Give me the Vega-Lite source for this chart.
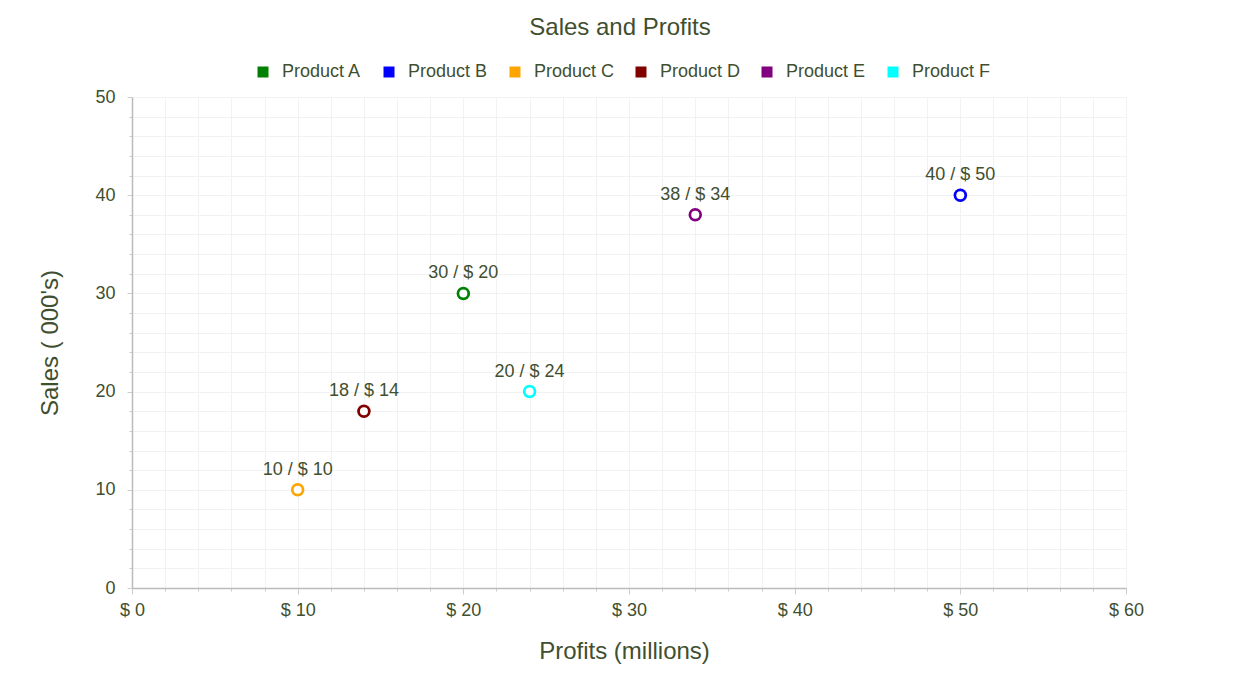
{
  "$schema": "https://vega.github.io/schema/vega-lite/v6.json",
  "width": 994,
  "height": 491,
  "autosize": {"type": "none"},
  "padding": {"left": 132, "top": 97, "right": 107, "bottom": 96},
  "background": "white",
  "config": {
    "font": "Liberation Sans",
    "view": {"stroke": null}
  },
  "title": {
    "text": "Sales and Profits",
    "fontSize": 24,
    "fontWeight": "normal",
    "color": "#3f4f2f",
    "offset": 23,
    "dx": -9,
    "anchor": "middle"
  },
  "data": {
    "values": [
      {"product": "Product A", "profit": 20, "sales": 30, "label": "30 / $ 20"},
      {"product": "Product B", "profit": 50, "sales": 40, "label": "40 / $ 50"},
      {"product": "Product C", "profit": 10, "sales": 10, "label": "10 / $ 10"},
      {"product": "Product D", "profit": 14, "sales": 18, "label": "18 / $ 14"},
      {"product": "Product E", "profit": 34, "sales": 38, "label": "38 / $ 34"},
      {"product": "Product F", "profit": 24, "sales": 20, "label": "20 / $ 24"}
    ]
  },
  "encoding": {
    "x": {
      "field": "profit",
      "type": "quantitative",
      "scale": {"domain": [0, 60], "nice": false},
      "axis": {
        "title": "Profits (millions)",
        "titleX": 492,
        "values": [0,2,4,6,8,10,12,14,16,18,20,22,24,26,28,30,32,34,36,38,40,42,44,46,48,50,52,54,56,58,60],
        "labelExpr": "datum.value % 10 === 0 ? '$ ' + datum.value : ''",
        "labelFontSize": 18,
        "labelColor": "#3f4f2f",
        "labelPadding": 7,
        "labelFlush": false,
        "labelOverlap": false,
        "titleFontSize": 24,
        "titleFontWeight": "normal",
        "titleColor": "#3f4f2f",
        "titlePadding": 20,
        "domainColor": "#bbbbbb",
        "domainWidth": 1.5,
        "tickColor": "#cccccc",
        "tickSize": {"expr": "datum.value % 10 === 0 ? 6 : 3"},
        "gridColor": "#f2f2f2",
        "gridWidth": 1
      }
    },
    "y": {
      "field": "sales",
      "type": "quantitative",
      "scale": {"domain": [0, 50], "nice": false},
      "axis": {
        "title": "Sales ( 000's)",
        "values": [0,2,4,6,8,10,12,14,16,18,20,22,24,26,28,30,32,34,36,38,40,42,44,46,48,50],
        "labelExpr": "datum.value % 10 === 0 ? datum.value : ''",
        "labelFontSize": 18,
        "labelColor": "#3f4f2f",
        "labelPadding": 12,
        "labelOverlap": false,
        "labelFlush": false,
        "titleFontSize": 24,
        "titleFontWeight": "normal",
        "titleColor": "#3f4f2f",
        "titlePadding": 32,
        "domainColor": "#bbbbbb",
        "domainWidth": 1.5,
        "tickColor": "#cccccc",
        "tickSize": {"expr": "datum.value % 10 === 0 ? 5 : 3"},
        "gridColor": "#f2f2f2",
        "gridWidth": 1
      }
    }
  },
  "layer": [
    {
      "mark": {"type": "point", "shape": "circle", "filled": true, "size": 182, "opacity": 1},
      "encoding": {
        "color": {
          "field": "product",
          "type": "nominal",
          "scale": {
            "domain": ["Product A", "Product B", "Product C", "Product D", "Product E", "Product F"],
            "range": ["#008000", "#0000ff", "#ffa500", "#800000", "#800080", "#00ffff"]
          },
          "legend": {
            "title": null,
            "orient": "none",
            "legendX": 122,
            "legendY": -34,
            "direction": "horizontal",
            "columns": 6,
            "gridAlign": "all",
            "columnPadding": 17,
            "symbolType": "square",
            "symbolSize": 121,
            "symbolOpacity": 1,
            "labelFontSize": 18,
            "labelColor": "#3f4f2f",
            "labelOffset": 10
          }
        }
      }
    },
    {
      "mark": {"type": "point", "shape": "circle", "filled": true, "size": 64, "color": "white", "opacity": 1},
      "encoding": {}
    },
    {
      "mark": {"type": "text", "dy": -15, "baseline": "alphabetic", "fontSize": 18, "color": "#3f4f2f"},
      "encoding": {
        "text": {"field": "label", "type": "nominal"}
      }
    }
  ]
}
